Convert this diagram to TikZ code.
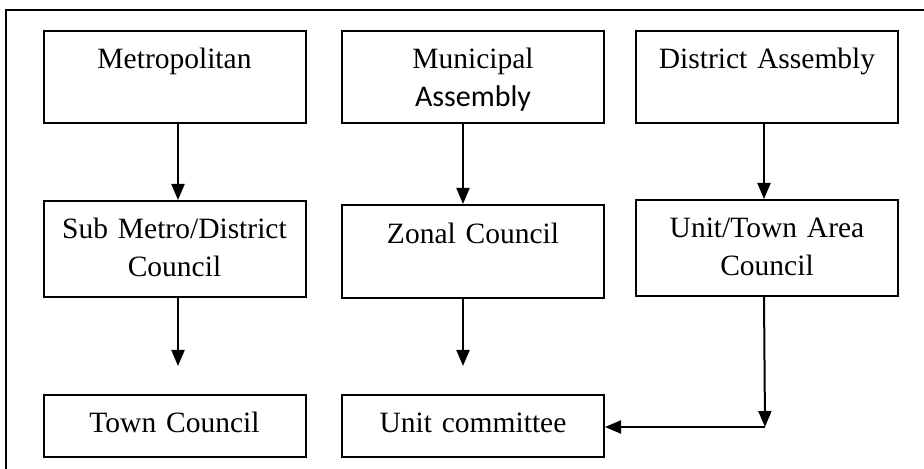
\documentclass[tikz,border=0pt]{standalone}
\usepackage{fontspec}
\setmainfont{Liberation Serif}
\newfontfamily\calibri{Carlito}
\usetikzlibrary{arrows.meta}

\begin{document}
\begin{tikzpicture}[x=0.5pt,y=-0.5pt,line width=1pt,>={Triangle[length=8pt,width=6.5pt]}]
      \useasboundingbox (0,0) rectangle (924,469);
      \draw (6,10) rectangle (940,490);

      \begin{scope}[every node/.style={draw,anchor=north,text width=131pt,inner sep=0pt,align=center,
          font=\fontsize{14.75pt}{18.75pt}\selectfont,text height=19pt,text depth=27pt}]
        \node (metro) at (174.5,30) {Metropolitan};
        \node (muni) at (473,30) {Municipal\\{\calibri\fontsize{15pt}{18pt}\selectfont Assembly}};
        \node (dist) at (767,30) {District Assembly};
        \node[text depth=29pt] (sub) at (174.5,200) {Sub Metro/District\\Council};
        \node[text height=19.5pt] (zonal) at (473,204) {Zonal Council};
        \node[text depth=29pt] (unit) at (767,199) {Unit/Town Area\\Council};
        \node[text height=18.5pt,text depth=12.5pt] (town) at (174.5,394) {Town Council};
        \node[text height=18.5pt,text depth=12.5pt] (ucom) at (473,394) {Unit committee};
      \end{scope}

      \coordinate (turn) at (765,427);

      \begin{scope}
        \path [->] ([xshift=1.75pt]metro.south) edge ([xshift=1.75pt]sub.north);
        \path [->] ([xshift=-5pt]muni.south) edge ([xshift=-5pt]zonal.north);
        \path [->] ([xshift=-1.5pt]dist.south) edge ([xshift=-1.5pt]unit.north);
        \path [->] ([xshift=1.75pt]sub.south) edge ([xshift=1.75pt,yshift=14pt]town.north);
        \path [->] ([xshift=-5pt]zonal.south) edge ([xshift=-5pt,yshift=14pt]ucom.north);
        \path [->] ([xshift=-1.5pt]unit.south) edge (turn);
        \path [->] (turn) edge (turn -| ucom.east);
      \end{scope}
    \end{tikzpicture}
\end{document}
